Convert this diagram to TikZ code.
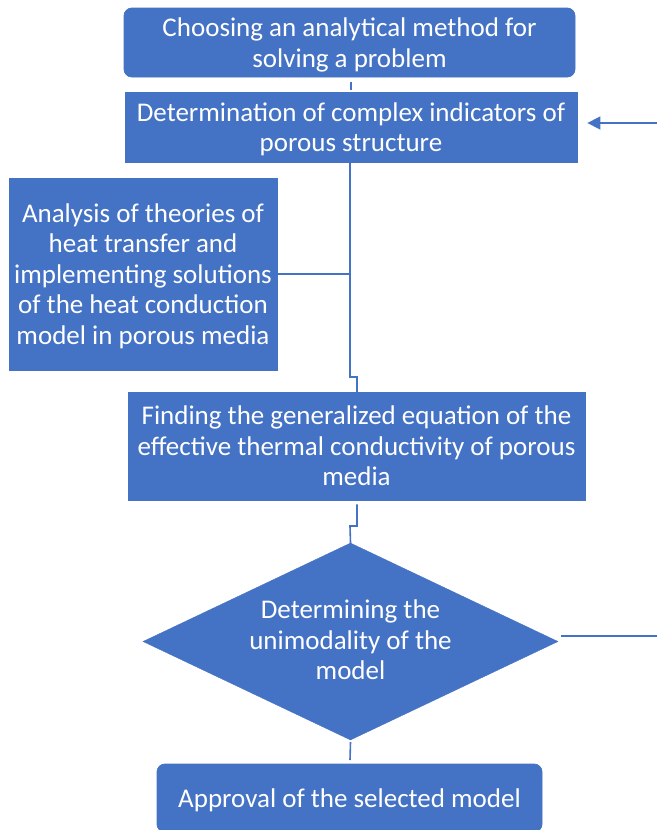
\documentclass[tikz,border=0pt]{standalone}
\usepackage{fontspec}
\setmainfont{Carlito}
\usetikzlibrary{shapes.geometric,arrows.meta}
\definecolor{obl}{HTML}{4472C4}
\tikzset{
  box/.style={fill=obl, draw=obl, line width=0.8pt, text=white, align=center, inner sep=0pt,
              text depth=0pt, font=\fontsize{27}{30.5}\selectfont},
  rbox/.style={box, rounded corners=8pt},
  conn/.style={draw=obl, line width=1.6pt},
  txt/.style={text=white, align=center, font=\fontsize{27}{30.5}\selectfont, inner sep=0pt}
}
\begin{document}
\begin{tikzpicture}[x=1pt,y=-1pt]
\useasboundingbox (0,0) rectangle (657,830);
% boxes
\node[rbox, minimum width=451pt, minimum height=69pt] (b1) at (349.5,42.5)
  {Choosing an analytical method for\\solving a problem};
\node[box, minimum width=452pt, minimum height=70pt] (b2) at (351,127)
  {Determination of complex indicators of\\porous structure};
\node[box, minimum width=268pt, minimum height=192pt] (b3) at (143,274)
  {Analysis of theories of\\heat transfer and\\implementing solutions\\of the heat conduction\\model in porous media};
\node[box, minimum width=457pt, minimum height=108pt] (b4) at (356.5,446)
  {Finding the generalized equation of the\\effective thermal conductivity of porous\\media};
\node[diamond, fill=obl, draw=obl, inner sep=0pt, minimum width=415pt, minimum height=197pt] (d) at (350.5,641.5) {};
\node[txt] (dt) at (350.5,640) {Determining the\\unimodality of the\\model};
\node[rbox, minimum width=385pt, minimum height=68pt] (b5) at (349.5,798)
  {Approval of the selected model};
% coordinates
\coordinate (ja) at (350,377);
\coordinate (jb) at (357,377);
\coordinate (jc) at (357,526);
\coordinate (jd) at (350,526);
\coordinate (ra) at (657,123);
\coordinate (rb) at (657,636);
% connectors
\draw[conn] (351,82) coordinate (s1) -- (351,90) coordinate (s2);
\draw[conn] (b2.south -| ja) -- (ja) -- (jb) -- (b4.north -| jb);
\draw[conn] (b3.east) -- (b3.east -| ja);
\draw[conn] (b4.south -| jc) ++(0,4) -- (jc) -- (jd) -- (d.north);
\draw[conn] (d.south) ++(0,2) -- (350,760);
\draw[conn, -{Triangle[length=13pt,width=13pt]}] (ra) -- ([xshift=10pt]b2.east |- ra);
\draw[conn, line width=1.2pt] (rb) -- ([xshift=3pt]d.east |- rb);
\end{tikzpicture}
\end{document}
